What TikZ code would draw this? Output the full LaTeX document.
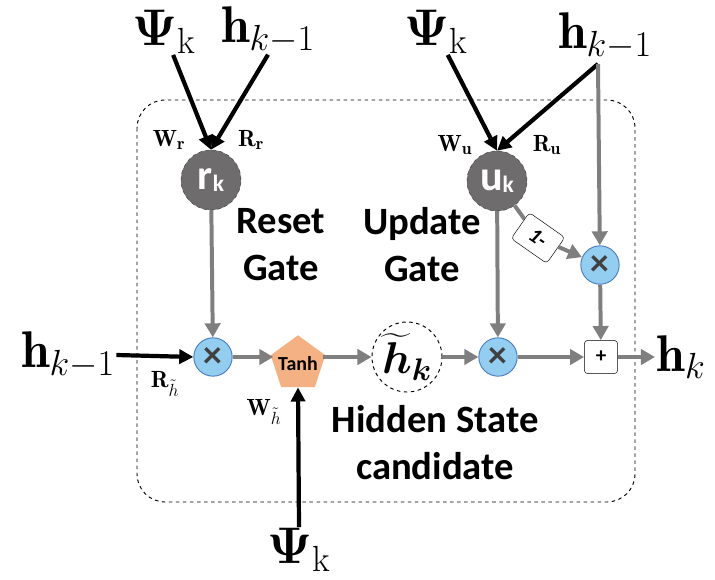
\documentclass[tikz,border=0pt]{standalone}
\usepackage{fix-cm}
\usepackage{amsmath,bm}
\usepackage{fontspec}
\setsansfont{Carlito}
\usetikzlibrary{arrows.meta,positioning,shapes.geometric,calc}
\definecolor{Gc}{HTML}{6E6C6C}
\definecolor{Mc}{HTML}{93CDF0}
\definecolor{Mb}{HTML}{4B7DBF}
\definecolor{Tc}{HTML}{F4B183}
\definecolor{Fc}{HTML}{7F7F7F}
\definecolor{Xk}{HTML}{404040}
\tikzset{
  gate/.style={circle, fill=Gc, draw=Xk, dashed, inner sep=0pt, minimum size=1.8cm, text=white, font=\sffamily\bfseries},
  mul/.style={circle, fill=Mc, draw=Mb, thick, inner sep=0pt, minimum size=1.15cm, text=Xk, font=\sffamily\bfseries\fontsize{32}{32}\selectfont},
  act/.style={regular polygon, regular polygon sides=5, fill=Tc, inner sep=-9pt, minimum size=1.72cm, font=\sffamily\bfseries\fontsize{17}{17}\selectfont},
  cand/.style={circle, draw=black, dashed, thick, inner sep=0pt, minimum size=2.1cm},
  opbox/.style={rectangle, rounded corners=3pt, draw=black, fill=white, inner sep=0pt},
  flow/.style={-{Triangle[length=12pt,width=13pt]}, draw=Fc, line width=3.4pt},
  feed/.style={-{Triangle[length=12pt,width=12pt]}, draw=black, line width=3.6pt},
  big/.style={font=\fontsize{44}{50}\selectfont, inner sep=1pt},
  wlab/.style={font=\fontsize{20}{22}\selectfont, inner sep=1pt},
  gtxt/.style={font=\sffamily\bfseries\fontsize{33}{40}\selectfont, align=center},
}
\newcommand{\bsub}[1]{_{\text{\fontsize{31}{31}\selectfont$#1$}}}
\newcommand{\wsub}[1]{_{\text{\fontsize{15}{15}\selectfont$#1$}}}

\begin{document}
\begin{tikzpicture}[x=0.03cm, y=-0.03cm]
  \useasboundingbox (0,0) rectangle (715,580);
  \draw[dashed, thick, rounded corners=24pt] (137,100) rectangle (635,502);
  % inputs and output
  \node[big] (psiA) at (164,32) {$\boldsymbol{\Psi}\bsub{\mathrm{k}}$};
  \node[big] (hA) at (268,30) {$\mathbf{h}\bsub{k{-}1}$};
  \node[big] (psiB) at (436,32) {$\boldsymbol{\Psi}\bsub{\mathrm{k}}$};
  \node[big] (hB) at (605,36) {$\mathbf{h}\bsub{k{-}1}$};
  \coordinate (hBo) at (598,64);
  \node[big] (hL) at (68,355) {$\mathbf{h}\bsub{k{-}1}$};
  \node[big] (psiC) at (299,550) {$\boldsymbol{\Psi}\bsub{\mathrm{k}}$};
  \node[big, anchor=west] (hk) at (655,357) {$\mathbf{h}\bsub{k}$};
  % gates
  \node[gate] (rk) at (211,180) {\fontsize{36}{36}\selectfont r\raisebox{-2pt}{\fontsize{20}{20}\selectfont k}};
  \node[gate] (uk) at (497,181) {\fontsize{36}{36}\selectfont u\raisebox{-2pt}{\fontsize{20}{20}\selectfont k}};
  \node[gtxt] (rtxt) at (281,245) {Reset\\Gate};
  \node[gtxt] (utxt) at (422,245) {Update\\Gate};
  % cell
  \node[mul] (mulL) at (213,357) {×};
  \node[act] (tanh) at (298,364) {Tanh};
  \node[cand] (ht) at (407,357) {\fontsize{38}{38}\selectfont$\boldsymbol{\widetilde{h}_{k}}$};
  \node[mul] (mulM) at (498,357) {×};
  \node[mul] (mulR) at (600,265) {×};
  \node[opbox, minimum size=1cm] (plus) at (601,357) {\sffamily\bfseries\fontsize{18}{18}\selectfont +};
  \node[opbox, minimum width=1.3cm, minimum height=0.95cm, rotate=-35] (onem) at (538,238) {\sffamily\bfseries\itshape\fontsize{18}{18}\selectfont 1-};
  \node[gtxt] (ctxt) at (435,443) {Hidden State\\candidate};
  % weights
  \node[wlab] (wr) at (169,140) {$\mathbf{W}\wsub{\mathbf{r}}$};
  \node[wlab] (rr) at (251,140) {$\mathbf{R}\wsub{\mathbf{r}}$};
  \node[wlab] (wu) at (455,145) {$\mathbf{W}\wsub{\mathbf{u}}$};
  \node[wlab] (ru) at (547,145) {$\mathbf{R}\wsub{\mathbf{u}}$};
  \node[wlab] (rh) at (165,384) {$\mathbf{R}\wsub{\tilde{h}}$};
  \node[wlab] (wh) at (264,412) {$\mathbf{W}\wsub{\tilde{h}}$};
  % connectors
  \draw[feed] (psiA) -- (rk.north);
  \draw[feed] (hA.south) -- (rk.north);
  \draw[feed] (psiB) -- (uk.north);
  \draw[feed] (hBo) -- (uk.north);
  \draw[feed] (hL.east) -- (mulL.west);
  \draw[feed] (psiC.north) -- (tanh.south);
  \draw[flow] (rk) -- (mulL);
  \draw[flow] (mulL) -- (mulL -| tanh.west);
  \draw[flow] (tanh.east |- ht) -- (ht);
  \draw[flow] (ht) -- (mulM);
  \draw[flow] (uk) -- (mulM);
  \draw[draw=Fc, line width=3.4pt] (uk) -- (onem);
  \draw[flow] (onem) -- (mulR);
  \draw[flow] (hBo) -- (mulR);
  \draw[flow] (mulR) -- (plus);
  \draw[flow] (mulM) -- (plus);
  \draw[flow] (plus) -- (hk);
\end{tikzpicture}
\end{document}
